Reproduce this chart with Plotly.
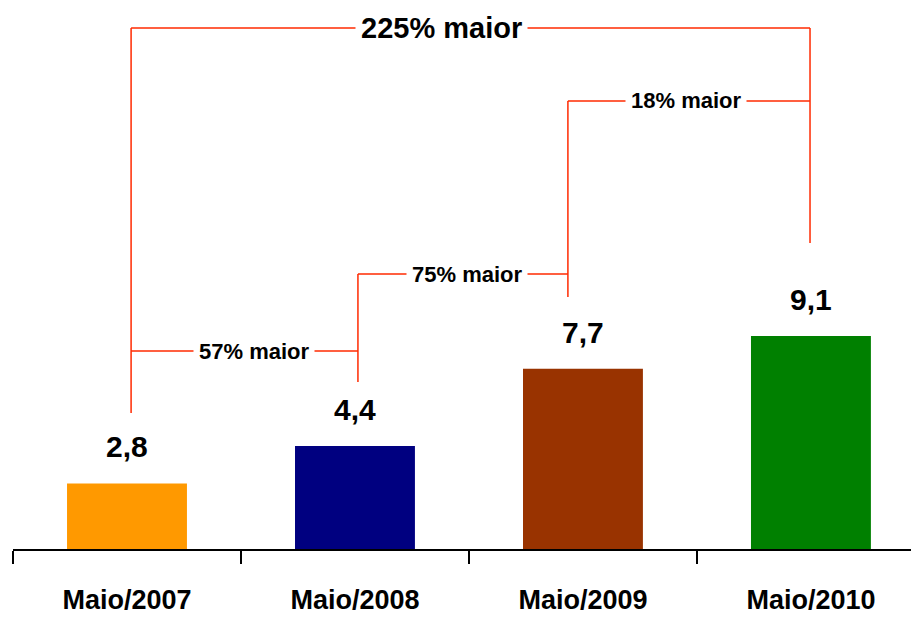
import plotly.graph_objects as go

# data
categories = ["Maio/2007", "Maio/2008", "Maio/2009", "Maio/2010"]
values = [2.8, 4.4, 7.7, 9.1]
value_labels = ["2,8", "4,4", "7,7", "9,1"]
bar_colors = ["#FF9900", "#000080", "#993300", "#008000"]

# comparisons: (from index, to index, label)
comparisons = [
    (0, 1, "57% maior"),
    (1, 2, "75% maior"),
    (2, 3, "18% maior"),
    (0, 3, "225% maior"),
]

# bracket layout (x of verticals in category units, y of horizontals / bottoms in value units)
bracket_x = [0.018, 1.013, 1.934, 2.996]
bracket_bottom = [5.81, 7.14, 10.77, 13.08]
bracket_level = {"57% maior": 8.46, "75% maior": 11.75, "18% maior": 19.15, "225% maior": 22.26}
label_x = {"57% maior": 0.555, "75% maior": 1.49, "18% maior": 2.45, "225% maior": 1.38}
label_size = {"57% maior": 22, "75% maior": 22, "18% maior": 22, "225% maior": 29}

RED = "#FF2A00"
FONT = "Liberation Sans, Arial, sans-serif"

fig = go.Figure(go.Bar(
    x=categories, y=values,
    marker=dict(color=bar_colors, line=dict(width=0)),
    hoverinfo="skip",
))

shapes = []
annotations = []

# vertical tops: highest level reached by any bracket touching that vertical
tops = [0.0] * len(categories)
for a, b, label in comparisons:
    lvl = bracket_level[label]
    tops[a] = max(tops[a], lvl)
    tops[b] = max(tops[b], lvl)

for i in range(len(categories)):
    shapes.append(dict(type="line", xref="x", yref="y",
        x0=bracket_x[i], x1=bracket_x[i], y0=bracket_bottom[i], y1=tops[i],
        line=dict(color=RED, width=1.5)))

for a, b, label in comparisons:
    lvl = bracket_level[label]
    shapes.append(dict(type="line", xref="x", yref="y",
        x0=bracket_x[a], x1=bracket_x[b], y0=lvl, y1=lvl,
        line=dict(color=RED, width=1.5)))
    annotations.append(dict(x=label_x[label], y=lvl, xref="x", yref="y",
        text="<b>%s</b>" % label, showarrow=False,
        bgcolor="white", borderpad=5,
        font=dict(family=FONT, size=label_size[label], color="black")))

for i, lab in enumerate(value_labels):
    annotations.append(dict(x=i, y=values[i], xref="x", yref="y",
        text="<b>%s</b>" % lab, showarrow=False, yanchor="bottom", yshift=18,
        font=dict(family=FONT, size=30, color="black")))

# page body has an 8px margin, so the figure is sized to the remaining window
fig.update_layout(
    width=911, height=611,
    paper_bgcolor="white", plot_bgcolor="white",
    margin=dict(l=5, r=0, t=0, b=70),
    bargap=0.474,
    showlegend=False,
    shapes=shapes,
    annotations=annotations,
    xaxis=dict(
        type="category", range=[-0.5, 3.474],
        showline=True, linecolor="black", linewidth=1.5,
        ticks="outside", tickson="boundaries", ticklen=13, tickwidth=1.5, tickcolor="black",
        tickfont=dict(family=FONT, size=27, color="black"),
        tickprefix="<b>", ticksuffix="</b>",
        ticklabelstandoff=26,
        showgrid=False, zeroline=False,
    ),
    yaxis=dict(range=[0, 23.12], visible=False, showgrid=False, zeroline=False),
)

fig.write_html("out.html")
